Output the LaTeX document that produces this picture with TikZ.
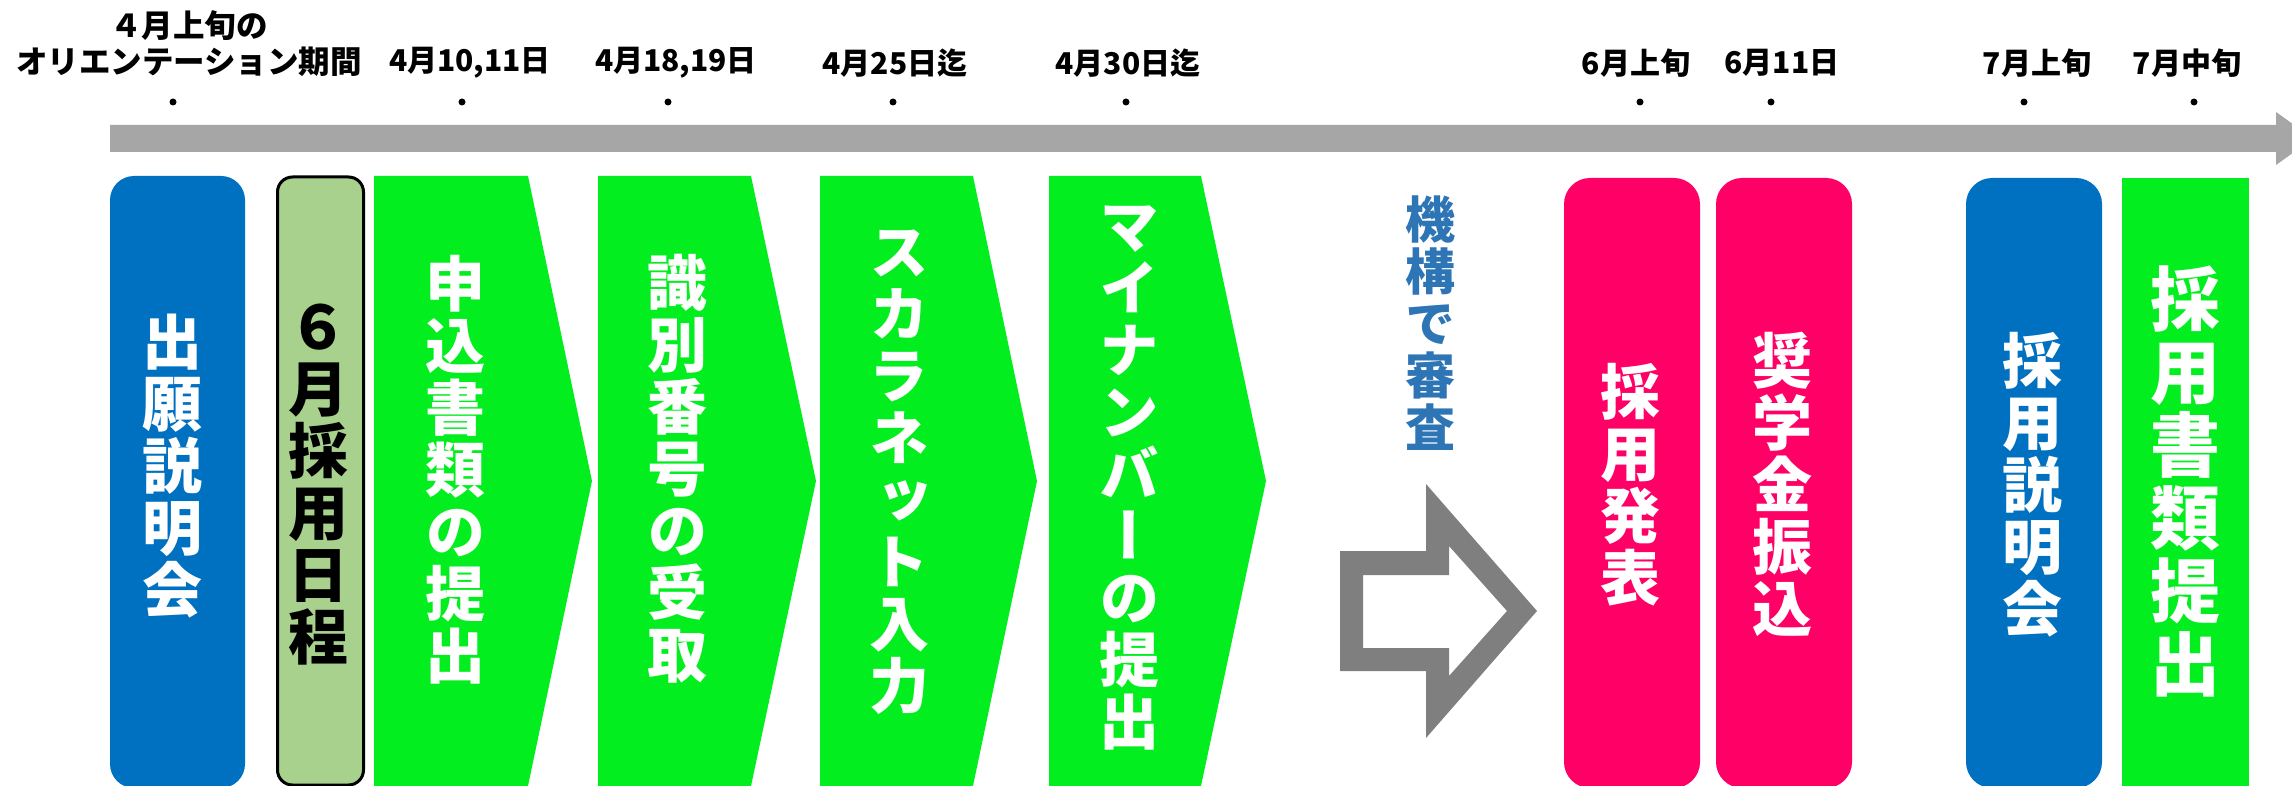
\documentclass[tikz,border=0pt]{standalone}
\usepackage{fontspec}
\newfontfamily\jph{Noto Sans CJK JP}
\newfontfamily\jpv[RawFeature=+vert]{Noto Sans CJK JP}
\definecolor{boxblue}{HTML}{0070C0}
\definecolor{chevgreen}{HTML}{03EE1F}
\definecolor{pinkbox}{HTML}{FF0066}
\definecolor{sixgreen}{HTML}{A9D18E}
\definecolor{bargray}{HTML}{A6A6A6}
\definecolor{arrowgray}{HTML}{7F7F7F}
\definecolor{textblue}{HTML}{2E75B6}
\tikzset{
  datelabel/.style={inner sep=0pt, align=center, font=\jph\bfseries\fontsize{30}{38}\selectfont},
  vtext/.style={inner sep=0pt, align=center, text=white, font=\jpv\bfseries\fontsize{60}{62}\selectfont},
  vtextbig/.style={inner sep=0pt, align=center, text=white, font=\jpv\bfseries\fontsize{70}{73}\selectfont},
  tdot/.style={fill=black},
}
\begin{document}
\begin{tikzpicture}[x=1pt,y=-1pt]
\useasboundingbox (0,0) rectangle (2292,786);
% timeline arrow
\fill[bargray] (110,125) -- (2276,125) -- (2276,112) -- (2313,138.5) -- (2276,165) -- (2276,152) -- (110,152) -- cycle;
% dots
\foreach \x in {173,462,668,893,1126,1640,1771,2024,2194}
  \fill[tdot] (\x,102) circle (3.5pt);
% date labels
\node[datelabel, font=\jph\bfseries\fontsize{31.5}{36}\selectfont] (d0) at (189,44) {４月上旬の\\オリエンテーション期間};
\node[datelabel] (d1) at (470,63) {4月10,11日};
\node[datelabel] (d2) at (676,63) {4月18,19日};
\node[datelabel] (d3) at (895,63) {4月25日迄};
\node[datelabel] (d4) at (1128,63) {4月30日迄};
\node[datelabel] (d5) at (1636,63) {6月上旬};
\node[datelabel] (d6) at (1782,63) {6月11日};
\node[datelabel] (d7) at (2037,63) {7月上旬};
\node[datelabel] (d8) at (2187,63) {7月中旬};
% boxes
\fill[boxblue, rounded corners=24pt] (110,176) rectangle (245,788);
\draw[line width=3pt, fill=sixgreen, rounded corners=15pt] (277.5,177) rectangle (363.5,785);
\fill[chevgreen] (374,176) -- (528,176) -- (592,481) -- (528,786) -- (374,786) -- cycle;
\fill[chevgreen] (598,176) -- (751,176) -- (816,481) -- (751,786) -- (598,786) -- cycle;
\fill[chevgreen] (820,176) -- (973,176) -- (1037,481) -- (973,786) -- (820,786) -- cycle;
\fill[chevgreen] (1049,176) -- (1201,176) -- (1266,481) -- (1201,786) -- (1049,786) -- cycle;
% hollow arrow
\fill[arrowgray, even odd rule]
  (1340,551) -- (1426,551) -- (1426,484) -- (1537,611) -- (1426,738) -- (1426,671) -- (1340,671) -- cycle
  (1363,575) -- (1449,575) -- (1449,546) -- (1507,611) -- (1449,676) -- (1449,648) -- (1363,648) -- cycle;
\fill[pinkbox, rounded corners=26pt] (1564,178) rectangle (1700,788);
\fill[pinkbox, rounded corners=26pt] (1716,178) rectangle (1852,788);
\fill[boxblue, rounded corners=26pt] (1966,178) rectangle (2102,788);
\fill[chevgreen] (2122,178) rectangle (2249,786);
% vertical texts
\node[vtext] (t1) at (172,466) {出\\願\\説\\明\\会};
\node[vtext, text=black] (t2) at (318,485) {６\\月\\採\\用\\日\\程};
\node[vtext] (t3) at (455,470) {申\\込\\書\\類\\の\\提\\出};
\node[vtext] (t4) at (677,469) {識\\別\\番\\号\\の\\受\\取};
\node[vtext] (t5) at (899,472) {ス\\カ\\ラ\\ネ\\ッ\\ト\\入\\力};
\node[vtext] (t6) at (1129,478) {マ\\イ\\ナ\\ン\\バ\\ー\\の\\提\\出};
\node[vtext, text=textblue, font=\jpv\bfseries\fontsize{50}{52}\selectfont] (t7) at (1430,323) {機\\構\\で\\審\\査};
\node[vtext] (t8) at (1630,485) {採\\用\\発\\表};
\node[vtext] (t9) at (1782,484) {奨\\学\\金\\振\\込};
\node[vtext] (t10) at (2032,485) {採\\用\\説\\明\\会};
\node[vtextbig] (t11) at (2185,481) {採\\用\\書\\類\\提\\出};
\end{tikzpicture}
\end{document}
